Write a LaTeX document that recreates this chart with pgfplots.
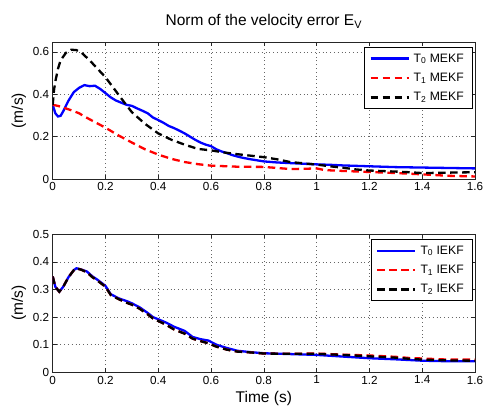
\documentclass[border=0pt]{standalone}
\usepackage{fontspec}
\setmainfont{Liberation Sans}
\usepackage{pgfplots}
\pgfplotsset{compat=1.18}

\pgfplotsset{
  mystyle/.style={
    scale only axis,
    width=422.3pt,
    xmin=0, xmax=1.6,
    xtick={0,0.2,...,1.6},
    axis line style={line width=0.8pt, black!85},
    tick align=inside,
    major tick length=4pt,
    tick style={line width=0.6pt, black!85},
    grid=major,
    major grid style={dash pattern=on 0.8pt off 3pt, black!60, line width=0.6pt},
    /pgf/number format/assume math mode=true,
    tick label style={font=\fontsize{11.7}{13}\selectfont},
    label style={font=\fontsize{15.5}{17}\selectfont},
    ylabel={(m/s)},
    legend cell align=left,
    legend style={font=\fontsize{12.2}{14}\selectfont, draw=black, line width=1.2pt,
      at={(rel axis cs:0.996,0.965)}, anchor=north east, row sep=5.5pt,
      inner xsep=5pt, inner ysep=4pt,
      nodes={inner xsep=4pt}},
    legend image code/.code={\draw[#1, line width=2.3pt] (0pt,0pt) -- (38pt,0pt);},
  },
  s0/.style={blue, line width=2.3pt},
  s1/.style={red, line width=2.3pt, dash pattern=on 7.5pt off 4.5pt},
  s2/.style={black, line width=2.3pt, dash pattern=on 7.5pt off 4.5pt},
}

\begin{document}
\begin{tikzpicture}
\useasboundingbox (0pt,0pt) rectangle (486pt,409pt);

\begin{axis}[mystyle,
  at={(52.7pt,230pt)}, anchor=south west,
  height=136.7pt,
  ymin=0, ymax=0.645,
  ytick={0,0.2,0.4,0.6},
  title={Norm of the velocity error E\textsubscript{V}},
  title style={font=\fontsize{15.5}{17}\selectfont, yshift=4pt},
]
\addplot[s0] coordinates {
(0,0.35)(0.01,0.31)(0.02,0.295)(0.03,0.298)(0.04,0.32)(0.06,0.37)(0.08,0.41)(0.1,0.43)
(0.12,0.443)(0.14,0.438)(0.16,0.44)(0.18,0.425)(0.2,0.405)(0.22,0.385)(0.24,0.37)(0.26,0.36)
(0.28,0.35)(0.3,0.345)(0.32,0.333)(0.34,0.322)(0.36,0.31)(0.38,0.29)(0.4,0.278)(0.42,0.265)
(0.44,0.25)(0.46,0.24)(0.48,0.228)(0.5,0.215)(0.52,0.2)(0.54,0.185)(0.56,0.172)(0.58,0.162)
(0.6,0.155)(0.62,0.14)(0.64,0.13)(0.66,0.122)(0.68,0.113)(0.7,0.106)(0.72,0.1)(0.75,0.093)
(0.8,0.083)(0.85,0.078)(0.9,0.075)(0.95,0.072)(1.0,0.069)(1.05,0.067)(1.1,0.064)(1.2,0.06)
(1.3,0.056)(1.4,0.054)(1.5,0.052)(1.6,0.05)};
\addplot[s1] coordinates {
(0,0.35)(0.02,0.345)(0.05,0.333)(0.08,0.32)(0.1,0.31)(0.12,0.295)(0.15,0.275)(0.2,0.242)
(0.25,0.205)(0.3,0.172)(0.35,0.14)(0.4,0.115)(0.45,0.095)(0.5,0.08)(0.55,0.07)(0.6,0.063)
(0.7,0.058)(0.8,0.057)(0.85,0.052)(0.9,0.047)(0.95,0.048)(1.0,0.05)(1.03,0.042)(1.1,0.038)
(1.2,0.033)(1.3,0.028)(1.4,0.022)(1.5,0.015)(1.6,0.012)};
\addplot[s2] coordinates {
(0,0.35)(0.005,0.42)(0.01,0.46)(0.02,0.52)(0.03,0.56)(0.05,0.595)(0.07,0.61)(0.09,0.608)
(0.11,0.595)(0.14,0.56)(0.17,0.52)(0.2,0.48)(0.23,0.43)(0.26,0.38)(0.3,0.315)(0.35,0.26)
(0.4,0.215)(0.45,0.185)(0.5,0.162)(0.55,0.142)(0.6,0.135)(0.65,0.125)(0.7,0.117)(0.75,0.11)
(0.8,0.103)(0.85,0.093)(0.9,0.08)(0.95,0.074)(1.0,0.068)(1.05,0.06)(1.1,0.053)(1.15,0.045)
(1.2,0.04)(1.3,0.035)(1.35,0.032)(1.4,0.028)(1.5,0.03)(1.6,0.032)};
\legend{T\textsubscript{0} MEKF, T\textsubscript{1} MEKF, T\textsubscript{2} MEKF}
\end{axis}

\begin{axis}[mystyle,
  at={(52.7pt,36.7pt)}, anchor=south west,
  height=138pt,
  ymin=0, ymax=0.5,
  ytick={0,0.1,...,0.5},
  xlabel={Time (s)},
]
\addplot[s0] coordinates {
(0,0.347)(0.01,0.31)(0.025,0.292)(0.04,0.31)(0.06,0.345)(0.08,0.37)(0.09,0.377)(0.11,0.372)
(0.13,0.365)(0.15,0.348)(0.17,0.335)(0.2,0.313)(0.22,0.283)(0.25,0.268)(0.28,0.258)(0.3,0.25)
(0.33,0.235)(0.36,0.215)(0.38,0.2)(0.4,0.192)(0.43,0.18)(0.46,0.165)(0.5,0.15)(0.53,0.128)
(0.56,0.12)(0.59,0.115)(0.62,0.1)(0.66,0.088)(0.7,0.078)(0.75,0.073)(0.8,0.069)(0.9,0.066)
(1.0,0.063)(1.1,0.057)(1.2,0.051)(1.3,0.047)(1.4,0.042)(1.5,0.04)(1.6,0.04)};
\addplot[s1] coordinates {
(0,0.347)(0.01,0.31)(0.025,0.292)(0.04,0.31)(0.06,0.345)(0.08,0.37)(0.09,0.377)(0.11,0.371)
(0.13,0.362)(0.15,0.345)(0.17,0.332)(0.2,0.31)(0.22,0.28)(0.25,0.265)(0.28,0.252)(0.3,0.245)
(0.33,0.23)(0.36,0.21)(0.38,0.195)(0.4,0.186)(0.43,0.172)(0.46,0.155)(0.5,0.14)(0.53,0.122)
(0.56,0.113)(0.59,0.105)(0.62,0.093)(0.66,0.082)(0.7,0.075)(0.75,0.072)(0.8,0.068)(0.9,0.067)
(1.0,0.068)(1.1,0.064)(1.2,0.061)(1.3,0.056)(1.35,0.052)(1.4,0.05)(1.5,0.046)(1.6,0.046)};
\addplot[s2] coordinates {
(0,0.347)(0.01,0.31)(0.025,0.292)(0.04,0.31)(0.06,0.345)(0.08,0.37)(0.09,0.377)(0.11,0.371)
(0.13,0.362)(0.15,0.345)(0.17,0.332)(0.2,0.31)(0.22,0.28)(0.25,0.265)(0.28,0.252)(0.3,0.245)
(0.33,0.23)(0.36,0.21)(0.38,0.195)(0.4,0.186)(0.43,0.172)(0.46,0.155)(0.5,0.14)(0.53,0.122)
(0.56,0.113)(0.59,0.105)(0.62,0.093)(0.66,0.082)(0.7,0.075)(0.75,0.072)(0.8,0.068)(0.9,0.067)
(1.0,0.067)(1.1,0.063)(1.2,0.058)(1.3,0.053)(1.35,0.049)(1.4,0.046)(1.5,0.043)(1.6,0.042)};
\legend{T\textsubscript{0} IEKF, T\textsubscript{1} IEKF, T\textsubscript{2} IEKF}
\end{axis}
\end{tikzpicture}
\end{document}
